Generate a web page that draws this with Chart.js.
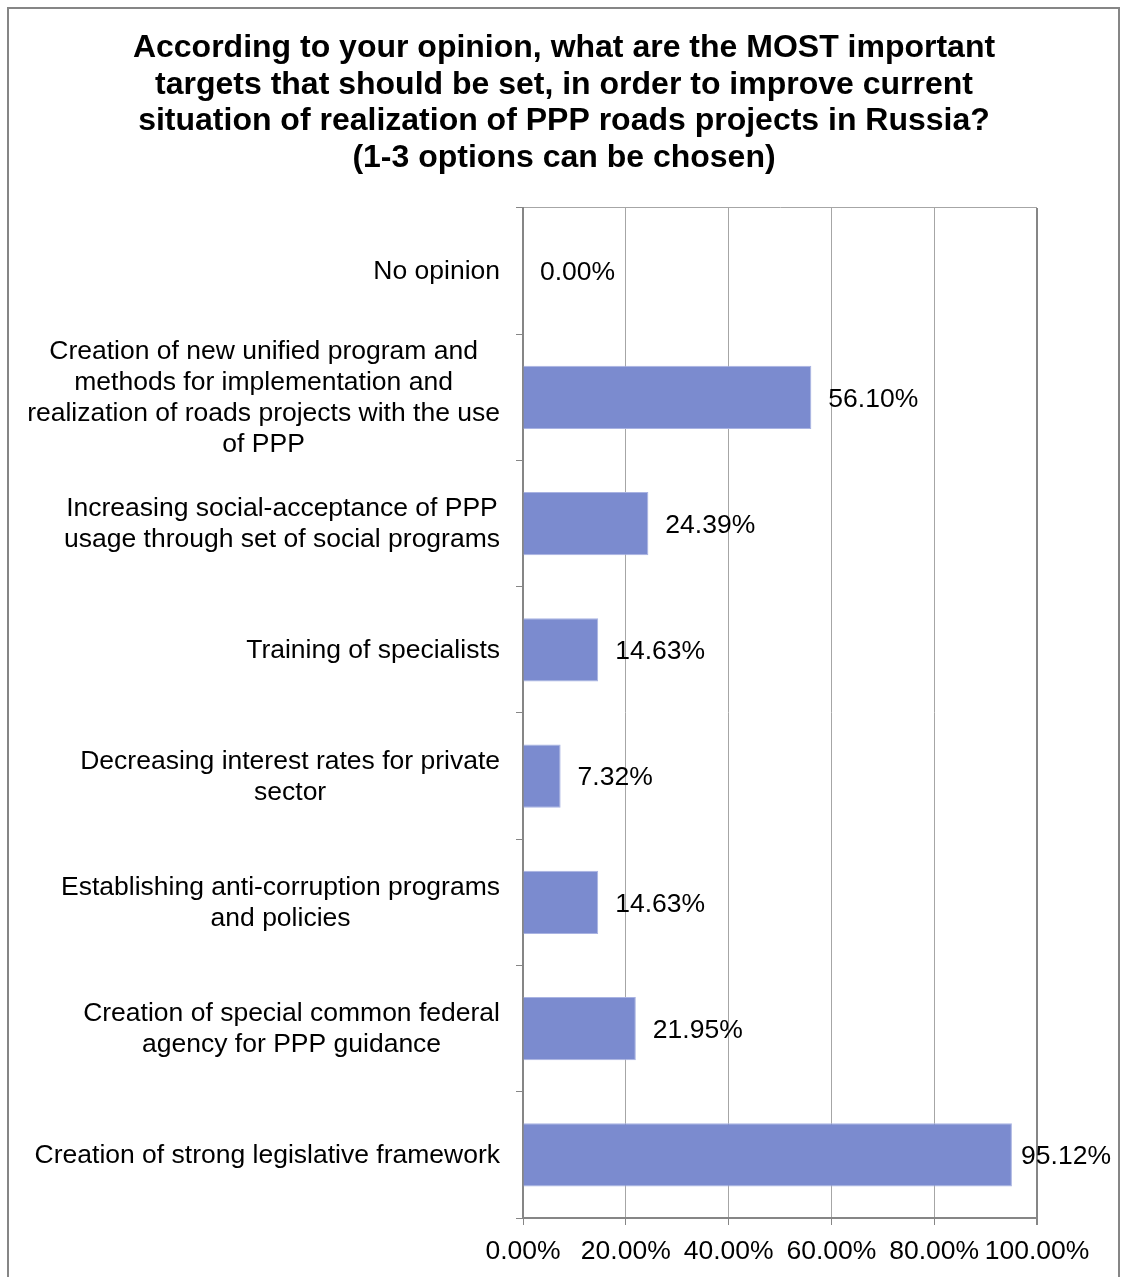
<!DOCTYPE html>
<html>
<head>
<meta charset="utf-8">
<script src="https://cdn.jsdelivr.net/npm/chart.js@4"></script>
<style>
    body { margin: 0; background: #fff; overflow: hidden; }
    #frame {
        position: absolute; left: 7px; top: 7px;
        width: 1109px; height: 1320px;
        border: 2px solid #868686; border-bottom: none;
    }
    #targetsChart { position: absolute; left: 0; top: 0; }
</style>
</head>
<body>
<div id="frame"></div>
<canvas id="targetsChart" width="1121" height="1277"></canvas>
<script>
// Survey answers, top to bottom
const categories = [
    'No opinion',
    ['Creation of new unified program and', 'methods for implementation and', 'realization of roads projects with the use', 'of PPP'],
    ['Increasing social-acceptance of PPP', 'usage through set of social programs'],
    'Training of specialists',
    ['Decreasing interest rates for private', 'sector'],
    ['Establishing anti-corruption programs', 'and policies'],
    ['Creation of special common federal', 'agency for PPP guidance'],
    'Creation of strong legislative framework'
];
const shares = [0.00, 56.10, 24.39, 14.63, 7.32, 14.63, 21.95, 95.12];
const xTicks = [0, 20, 40, 60, 80, 100];

const titleLines = [
    'According to your opinion, what are the MOST important',
    'targets that should be set, in order to improve current',
    'situation of realization of PPP roads projects in Russia?',
    '(1-3 options can be chosen)'
];

const FONT = "'Liberation Sans', Arial, sans-serif";
const AXIS_GREY = '#868686';
const GRID_GREY = '#a6a6a6';
const LABEL_SIZE = 26.5;

// category labels: block right-aligned against the axis, lines centred inside the block
const categoryLabels = {
    id: 'categoryLabels',
    afterDraw(chart) {
        const ctx = chart.ctx;
        const yScale = chart.scales.y;
        const right = chart.chartArea.left - 23;
        const lh = 31;
        ctx.save();
        ctx.font = LABEL_SIZE + 'px ' + FONT;
        ctx.fillStyle = '#000';
        ctx.textAlign = 'center';
        ctx.textBaseline = 'middle';
        categories.forEach((label, i) => {
            const lines = Array.isArray(label) ? label : [label];
            const widest = Math.max(...lines.map(l => ctx.measureText(l).width));
            const cx = right - widest / 2;
            const yc = yScale.getPixelForValue(i) + 1;
            const y0 = yc - (lines.length - 1) * lh / 2;
            lines.forEach((l, j) => ctx.fillText(l, cx, y0 + j * lh));
        });
        ctx.restore();
    }
};

// percentage printed just past the end of each bar, kept inside the frame
const valueLabels = {
    id: 'valueLabels',
    afterDatasetsDraw(chart) {
        const ctx = chart.ctx;
        const meta = chart.getDatasetMeta(0);
        const limit = chart.width - 10;
        ctx.save();
        ctx.font = LABEL_SIZE + 'px ' + FONT;
        ctx.fillStyle = '#000';
        ctx.textAlign = 'left';
        ctx.textBaseline = 'middle';
        meta.data.forEach((bar, i) => {
            const txt = shares[i].toFixed(2) + '%';
            const w = ctx.measureText(txt).width;
            const x = Math.min(bar.x + 17, limit - w);
            ctx.fillText(txt, x, bar.y + 2);
        });
        ctx.restore();
    }
};

const ctx = document.getElementById('targetsChart').getContext('2d');
const targetsChart = new Chart(ctx, {
    type: 'bar',
    data: {
        labels: categories,
        datasets: [{
            data: shares,
            backgroundColor: '#7b8bcf',
            borderColor: '#a9b3e2',
            borderWidth: 1,
            barPercentage: 1.0,
            categoryPercentage: 0.5
        }]
    },
    options: {
        indexAxis: 'y',
        responsive: false,
        animation: false,
        layout: { padding: { left: 91, right: 84, top: 0, bottom: 0 } },
        plugins: {
            legend: { display: false },
            tooltip: { enabled: false },
            title: {
                display: true,
                text: titleLines,
                color: '#000',
                font: { family: FONT, size: 32, weight: 'bold', lineHeight: 1.14 },
                padding: { top: 30, bottom: 32 }
            }
        },
        scales: {
            x: {
                min: 0,
                max: 100,
                afterBuildTicks(scale) {
                    scale.ticks = xTicks.map(v => ({ value: v }));
                },
                afterFit(scale) { scale.height = 59; },
                border: { color: AXIS_GREY, width: 2 },
                grid: {
                    color: c => c.index === xTicks.length - 1 ? AXIS_GREY : GRID_GREY,
                    lineWidth: c => c.index === xTicks.length - 1 ? 2 : 1,
                    tickColor: AXIS_GREY,
                    tickLength: 7
                },
                ticks: {
                    color: '#000',
                    padding: 11,
                    maxRotation: 0,
                    autoSkip: false,
                    font: { family: FONT, size: LABEL_SIZE },
                    callback: v => v.toFixed(2) + '%'
                }
            },
            y: {
                afterFit(scale) { scale.width = 432; },
                border: { color: AXIS_GREY, width: 2 },
                grid: {
                    offset: true,
                    color: c => c.index === 0 ? GRID_GREY : 'transparent',
                    tickColor: AXIS_GREY,
                    tickLength: 7
                },
                ticks: { display: false }
            }
        }
    },
    plugins: [categoryLabels, valueLabels]
});
</script>
</body>
</html>
